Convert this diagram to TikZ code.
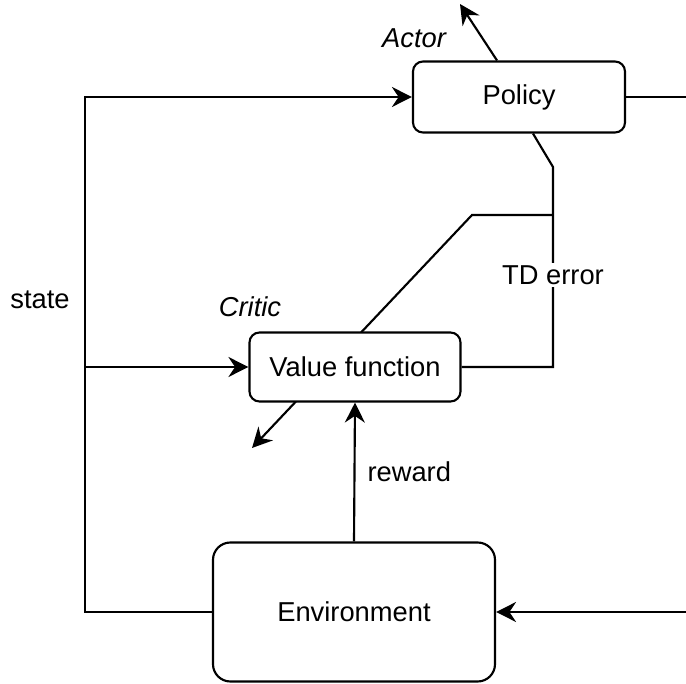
\documentclass[tikz,border=0pt]{standalone}
\usepackage{fontspec}
\setmainfont{Liberation Sans}
\usetikzlibrary{arrows.meta}

\tikzset{
  box/.style={draw, fill=white, rounded corners=7.5pt, inner sep=0pt,
    font=\fontsize{20.5}{24}\selectfont},
  lbl/.style={font=\fontsize{20.5}{24}\selectfont},
  arr/.style={-{Stealth[length=15pt, width=15pt, inset=5pt]}},
}

\begin{document}
\begin{tikzpicture}[x=0.75pt, y=-0.75pt, line width=1.6pt]
    \useasboundingbox (0,0) rectangle (686,684);

    % Critic update (behind the value box)
    \coordinate (tdjoin) at (553,215);
    \coordinate (bend) at (472,215);
    \coordinate (critictip) at (252,448);
    \draw[arr] (tdjoin) -- (bend) -- (critictip);

    % Boxes
    \node[box, minimum width=159pt, minimum height=53.25pt] (policy) at (519,97) {Policy};
    \node[box, minimum width=158.25pt, minimum height=51.75pt] (value) at (355,367) {Value function};
    \node[box, rounded corners=13pt, minimum width=211.5pt, minimum height=104.25pt] (env) at (354,612) {Environment};

    % State
    \coordinate (sx) at (85,97);
    \draw[arr] (env.west) -| (sx) -- (policy.west);
    \draw[arr] (sx |- value.west) -- (value.west);
    \node[lbl] (state) at (40,300) {state};

    % Action
    \coordinate (rx) at (700,97);
    \draw[arr] (policy.east) -- (rx) |- (env.east);

    % Reward
    \draw[arr] (env.north) -- (value.south);
    \node[lbl, anchor=west] (reward) at (362,472) {reward};

    % TD error
    \coordinate (td) at (553,167);
    \draw (value.east) -| (td) -- ([xshift=10.5pt]policy.south);
    \node[lbl, fill=white, inner sep=2pt] (tderr) at (553,275) {TD error};

    % Actor update
    \coordinate (actortip) at (460,4);
    \draw[arr] ([xshift=-16.5pt]policy.north) -- (actortip);
    \node[lbl, font=\fontsize{20.5}{24}\selectfont\itshape] (actor) at (414,38) {Actor};
    \node[lbl, font=\fontsize{20.5}{24}\selectfont\itshape] (critic) at (250,307) {Critic};
\end{tikzpicture}
\end{document}
